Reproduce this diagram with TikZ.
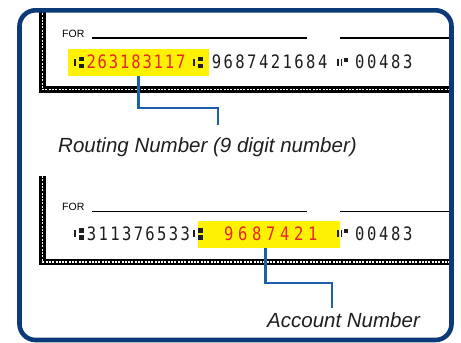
\documentclass[tikz,border=0pt]{standalone}
\usepackage{fontspec}
\setmainfont{Liberation Sans}
\newfontfamily\micrfont[FakeStretch=0.84]{DejaVu Sans Mono}
\usetikzlibrary{calc}
\definecolor{frameblue}{RGB}{12,58,120}
\definecolor{linkblue}{RGB}{28,96,170}
\definecolor{micryellow}{RGB}{255,242,0}
\definecolor{micrred}{RGB}{232,38,43}
\definecolor{micrblack}{RGB}{30,30,30}
\makeatletter
\newcommand\micrcells[2]{\@tfor\@ch:=#2\do{\makebox[#1][c]{\@ch}}}
\makeatother
\newcommand\transitsym[2]{%
  \fill[micrblack] (#1,#2-10) rectangle (#1+2,#2-3);
  \fill[micrblack] (#1+5,#2-12) rectangle (#1+9.5,#2-7.5);
  \fill[micrblack] (#1+5,#2-5) rectangle (#1+9.5,#2-0.5);}
\newcommand\onussym[2]{%
  \fill[micrblack] (#1,#2-10) rectangle (#1+1.8,#2-3);
  \fill[micrblack] (#1+3.5,#2-10) rectangle (#1+5.3,#2-3);
  \fill[micrblack] (#1+6.5,#2-11) rectangle (#1+10.5,#2-7);}
\tikzset{
  digits/.style={font=\micrfont\fontsize{18.5}{20}\selectfont, inner sep=0, anchor=base west},
  lbl/.style={font=\itshape\fontsize{20.5}{24}\selectfont, text=black!88, inner sep=0, anchor=base west},
  forlbl/.style={font=\fontsize{10.5}{12}\selectfont, inner sep=0, anchor=base west},
  hl/.style={fill=micryellow, inner sep=0, anchor=north west},
  rule/.style={line width=1.3pt, black},
  checkedge/.style={line width=6.5pt, black},
  checkdash/.style={line width=1.6pt, white, dash pattern=on 2pt off 1.3pt},
  link/.style={line width=2.9pt, linkblue},
  frame/.style={line width=4.6pt, frameblue, rounded corners=16pt}
}
\begin{document}
\begin{tikzpicture}[x=1pt,y=-1pt]
\useasboundingbox (0,0) rectangle (461,343);
\fill[white] (0,0) rectangle (461,343);
\begin{scope}
\clip[rounded corners=16pt] (19.5,10.3) rectangle (451.5,340);
% check 1
\draw[checkedge] (42.5,0) -- (42.5,89.5) -- (470,89.5);
\draw[checkdash] (42.5,0) -- (42.5,89.5) -- (470,89.5);
\node[forlbl] (for1) at (62,37) {FOR};
\draw[rule] (92,38) -- (307,38);
\draw[rule] (340,38) -- (460,38);
\node[hl, minimum width=141pt, minimum height=27pt] (rbox) at (68,49) {};
\transitsym{74}{68.5}
\node[digits, text=micrred] (rnum) at (85.4,68.5) {\micrcells{11.2pt}{263183117}};
\transitsym{193}{68.5}
\node[digits, text=micrblack] (acc1) at (210.4,68.5) {\micrcells{11.8pt}{9687421684}};
\onussym{337}{68.5}
\node[digits, text=micrblack] (chk1) at (353.5,68.5) {\micrcells{12pt}{00483}};
% check 2
\draw[checkedge] (42.5,176) -- (42.5,262) -- (470,262);
\draw[checkdash] (42.5,176) -- (42.5,262) -- (470,262);
\node[forlbl] (for2) at (62,210) {FOR};
\draw[rule] (92,211.5) -- (307,211.5);
\draw[rule] (340,211.5) -- (460,211.5);
\node[hl, minimum width=142pt, minimum height=26.5pt] (abox) at (198,221) {};
\transitsym{74}{240}
\node[digits, text=micrblack] (rnum2) at (85.6,240) {\micrcells{11.7pt}{311376533}};
\transitsym{193}{240}
\node[digits, text=micrred] (anum) at (221.5,240) {\micrcells{14pt}{9687421}};
\onussym{337}{240}
\node[digits, text=micrblack] (chk2) at (353.5,240) {\micrcells{12pt}{00483}};
% labels
\node[lbl] (rlabel) at (58,152) {Routing Number (9 digit number)};
\node[lbl] (alabel) at (267,327) {Account Number};
\coordinate (rend) at (218,125);
\coordinate (aend) at (332,308);
\draw[link] (rbox.south) |- (rend |- 0,108) -- (rend);
\draw[link] ([xshift=-4pt]abox.south) |- (aend |- 0,283) -- (aend);
\end{scope}
\draw[frame] (19.5,10.3) rectangle (451.5,340);
\end{tikzpicture}
\end{document}
